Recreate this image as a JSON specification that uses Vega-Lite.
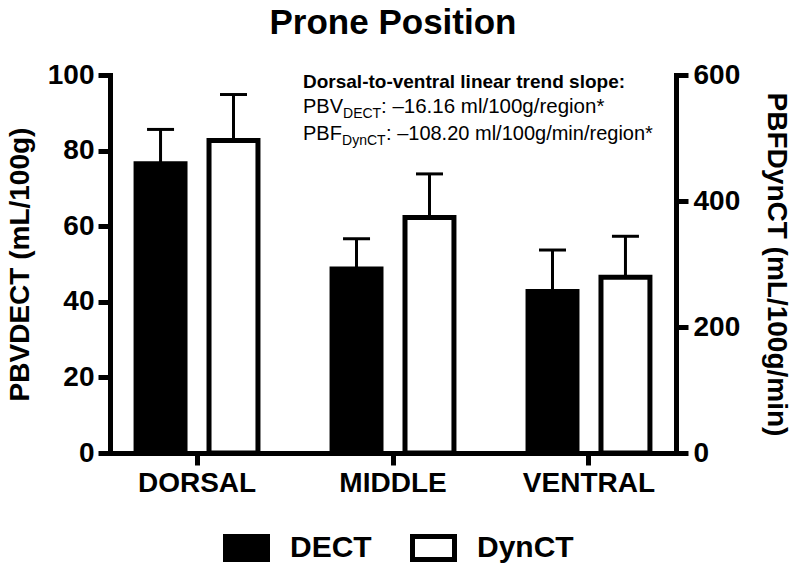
{
  "$schema": "https://vega.github.io/schema/vega-lite/v6.json",
  "width": 566,
  "height": 378,
  "autosize": {"type": "none"},
  "padding": {"left": 110, "top": 75, "right": 124, "bottom": 113},
  "background": "white",
  "title": {"text": "Prone Position", "fontSize": 35, "font": "Liberation Sans", "fontWeight": "bold", "color": "black", "anchor": "middle", "offset": 20},
  "config": {
    "view": {"stroke": null},
    "axis": {"grid": false, "domainColor": "black", "tickColor": "black", "labelColor": "black", "titleColor": "black", "labelFont": "Liberation Sans", "titleFont": "Liberation Sans", "domainWidth": 5, "tickWidth": 5, "tickSize": 12, "labelFontWeight": "bold", "labelFontSize": 28, "titleFontWeight": "bold", "titleFontSize": 28, "domainCap": "square"}
  },
  "data": {"values": [
    {"region": "DORSAL", "series": "DECT", "mean": 76.5, "upper": 85.6},
    {"region": "MIDDLE", "series": "DECT", "mean": 48.7, "upper": 56.7},
    {"region": "VENTRAL", "series": "DECT", "mean": 42.7, "upper": 53.7},
    {"region": "DORSAL", "series": "DynCT", "mean": 496, "upper": 569},
    {"region": "MIDDLE", "series": "DynCT", "mean": 374, "upper": 443},
    {"region": "VENTRAL", "series": "DynCT", "mean": 279, "upper": 344}
  ]},
  "layer": [
    {
      "layer": [
        {
          "transform": [{"filter": "datum.series === 'DECT'"}],
          "mark": {"type": "bar", "stroke": "black", "strokeWidth": 5},
          "encoding": {
            "x": {"field": "region", "type": "nominal", "title": null, "scale": {"domain": ["DORSAL", "MIDDLE", "VENTRAL"], "paddingInner": 0.378, "paddingOuter": 0.133}, "axis": {"title": null, "labelAngle": 0, "labelPadding": 4}},
            "xOffset": {"field": "series", "type": "nominal", "scale": {"domain": ["DECT", "DynCT"], "paddingInner": 0.329, "paddingOuter": 0}},
            "y": {"field": "mean", "type": "quantitative", "title": "PBVDECT (mL/100g)", "scale": {"domain": [0, 100], "nice": false}, "axis": {"values": [0, 20, 40, 60, 80, 100], "titlePadding": 13, "labelPadding": 4}},
            "fill": {"field": "series", "type": "nominal", "scale": {"domain": ["DECT", "DynCT"], "range": ["black", "white"]},
              "legend": {"title": null, "orient": "none", "legendX": 113, "legendY": 449, "direction": "horizontal", "symbolType": "M-1,-0.55H1V0.55H-1Z", "symbolSize": 1764, "symbolStrokeColor": "black", "symbolStrokeWidth": 5, "labelFontSize": 30, "labelFontWeight": "bold", "labelFont": "Liberation Sans", "labelColor": "black", "columnPadding": 30, "labelOffset": 20, "symbolOpacity": 1}}
          }
        },
        {
          "transform": [{"filter": "datum.series === 'DECT'"}],
          "mark": {"type": "rule", "strokeWidth": 3, "color": "black"},
          "encoding": {
            "x": {"field": "region", "type": "nominal", "title": null},
            "xOffset": {"field": "series", "type": "nominal"},
            "y": {"field": "upper", "type": "quantitative", "title": "PBVDECT (mL/100g)"},
            "y2": {"field": "mean"}
          }
        },
        {
          "transform": [{"filter": "datum.series === 'DECT'"}],
          "mark": {"type": "tick", "orient": "horizontal", "size": 27, "thickness": 3, "color": "black", "opacity": 1},
          "encoding": {
            "x": {"field": "region", "type": "nominal", "title": null},
            "xOffset": {"field": "series", "type": "nominal"},
            "y": {"field": "upper", "type": "quantitative", "title": "PBVDECT (mL/100g)"}
          }
        },
        {
          "data": {"values": [{"label": "Dorsal-to-ventral linear trend slope:"}]},
          "mark": {"type": "text", "align": "left", "baseline": "alphabetic", "dx": 106, "fontSize": 19, "fontWeight": "bold", "font": "Liberation Sans", "color": "black"},
          "encoding": {"x": {"datum": "DORSAL", "type": "nominal", "title": null}, "y": {"datum": 96.6, "type": "quantitative", "title": "PBVDECT (mL/100g)"}, "text": {"field": "label"}}
        },
        {
          "data": {"values": [{"label": "PBV"}]},
          "mark": {"type": "text", "align": "left", "baseline": "alphabetic", "dx": 106, "fontSize": 20, "font": "Liberation Sans", "color": "black"},
          "encoding": {"x": {"datum": "DORSAL", "type": "nominal", "title": null}, "y": {"datum": 90.0, "type": "quantitative", "title": "PBVDECT (mL/100g)"}, "text": {"field": "label"}}
        },
        {
          "data": {"values": [{"label": "DECT"}]},
          "mark": {"type": "text", "align": "left", "baseline": "alphabetic", "dx": 146, "dy": 5, "fontSize": 14, "font": "Liberation Sans", "color": "black"},
          "encoding": {"x": {"datum": "DORSAL", "type": "nominal", "title": null}, "y": {"datum": 90.0, "type": "quantitative", "title": "PBVDECT (mL/100g)"}, "text": {"field": "label"}}
        },
        {
          "data": {"values": [{"label": ":  –16.16 ml/100g/region*"}]},
          "mark": {"type": "text", "align": "left", "baseline": "alphabetic", "dx": 184, "fontSize": 20.5, "font": "Liberation Sans", "color": "black"},
          "encoding": {"x": {"datum": "DORSAL", "type": "nominal", "title": null}, "y": {"datum": 90.0, "type": "quantitative", "title": "PBVDECT (mL/100g)"}, "text": {"field": "label"}}
        },
        {
          "data": {"values": [{"label": "PBF"}]},
          "mark": {"type": "text", "align": "left", "baseline": "alphabetic", "dx": 106, "fontSize": 20, "font": "Liberation Sans", "color": "black"},
          "encoding": {"x": {"datum": "DORSAL", "type": "nominal", "title": null}, "y": {"datum": 82.8, "type": "quantitative", "title": "PBVDECT (mL/100g)"}, "text": {"field": "label"}}
        },
        {
          "data": {"values": [{"label": "DynCT"}]},
          "mark": {"type": "text", "align": "left", "baseline": "alphabetic", "dx": 145, "dy": 5, "fontSize": 14, "font": "Liberation Sans", "color": "black"},
          "encoding": {"x": {"datum": "DORSAL", "type": "nominal", "title": null}, "y": {"datum": 82.8, "type": "quantitative", "title": "PBVDECT (mL/100g)"}, "text": {"field": "label"}}
        },
        {
          "data": {"values": [{"label": ":  –108.20 ml/100g/min/region*"}]},
          "mark": {"type": "text", "align": "left", "baseline": "alphabetic", "dx": 189, "fontSize": 20, "font": "Liberation Sans", "color": "black"},
          "encoding": {"x": {"datum": "DORSAL", "type": "nominal", "title": null}, "y": {"datum": 82.8, "type": "quantitative", "title": "PBVDECT (mL/100g)"}, "text": {"field": "label"}}
        }
      ]
    },
    {
      "layer": [
        {
          "transform": [{"filter": "datum.series === 'DynCT'"}],
          "mark": {"type": "bar", "stroke": "black", "strokeWidth": 5},
          "encoding": {
            "x": {"field": "region", "type": "nominal", "title": null},
            "xOffset": {"field": "series", "type": "nominal"},
            "y": {"field": "mean", "type": "quantitative", "title": "PBFDynCT (mL/100g/min)", "scale": {"domain": [0, 600], "nice": false}, "axis": {"orient": "right", "values": [0, 200, 400, 600], "titlePadding": 22, "labelPadding": 5}},
            "fill": {"field": "series", "type": "nominal"}
          }
        },
        {
          "transform": [{"filter": "datum.series === 'DynCT'"}],
          "mark": {"type": "rule", "strokeWidth": 3, "color": "black"},
          "encoding": {
            "x": {"field": "region", "type": "nominal", "title": null},
            "xOffset": {"field": "series", "type": "nominal"},
            "y": {"field": "upper", "type": "quantitative", "title": "PBFDynCT (mL/100g/min)"},
            "y2": {"field": "mean"}
          }
        },
        {
          "transform": [{"filter": "datum.series === 'DynCT'"}],
          "mark": {"type": "tick", "orient": "horizontal", "size": 27, "thickness": 3, "color": "black", "opacity": 1},
          "encoding": {
            "x": {"field": "region", "type": "nominal", "title": null},
            "xOffset": {"field": "series", "type": "nominal"},
            "y": {"field": "upper", "type": "quantitative", "title": "PBFDynCT (mL/100g/min)"}
          }
        }
      ]
    }
  ],
  "resolve": {"scale": {"y": "independent"}}
}
